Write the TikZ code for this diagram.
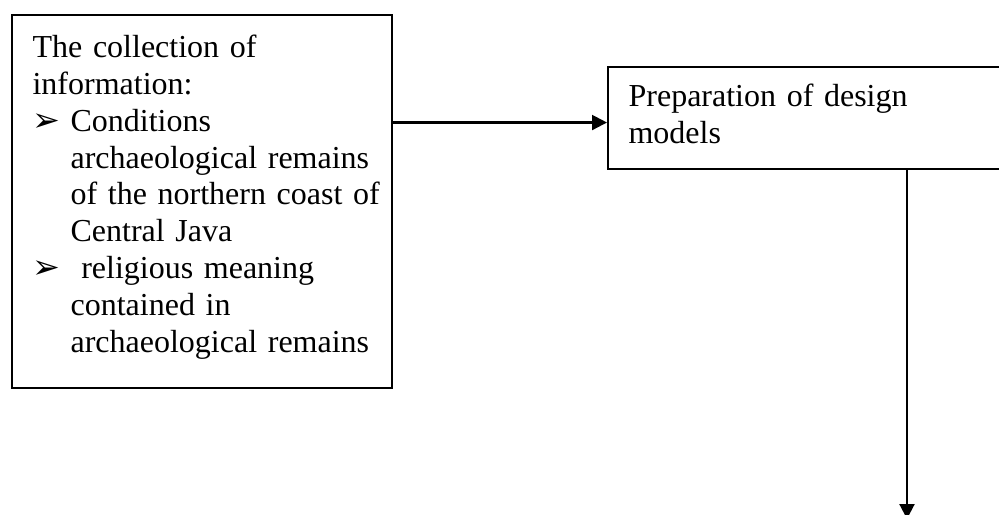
\documentclass[tikz,border=0pt]{standalone}
\usepackage{fontspec}
\setmainfont{Liberation Serif}
\newfontfamily\dingfont{DejaVu Sans}
\usetikzlibrary{arrows.meta,positioning}

\newcommand{\bulpt}{\makebox[14.25pt][l]{\dingfont\fontsize{12.5}{12.5}\selectfont ➢}}
\newcommand{\indpt}{\hspace*{14.25pt}}

\begin{document}
\begin{tikzpicture}[x=0.375pt,y=-0.375pt,>={Triangle[length=5.6pt,width=5.6pt]}]
\tikzset{
  frame/.style={draw,line width=0.75pt,inner sep=0pt,anchor=north west},
  boxtext/.style={inner sep=0pt,anchor=base west,align=left,font=\fontsize{12}{13.8}\selectfont},
  arr/.style={->,line width=0.8pt}
}
\useasboundingbox (0,0) rectangle (999,515);
\clip (0,0) rectangle (999,515);

% left box: collected information
\node[frame,minimum width=142.5pt,minimum height=139.9pt] (info) at (11,14) {};
\node[boxtext,text width=136pt] (infotext) at ([xshift=7.9pt,yshift=-16.4pt]info.north west) {The collection of\\
information:\\
\bulpt Conditions\\
\indpt archaeological remains\\
\indpt of the northern coast of\\
\indpt Central Java\\
\bulpt\ religious meaning\\
\indpt contained in\\
\indpt archaeological remains};

% right box: design models
\node[frame,minimum width=162.4pt,minimum height=38.25pt] (prep) at (607,66) {};
\node[boxtext,text width=140pt] (preptext) at ([xshift=7.9pt,yshift=-15.2pt]prep.north west) {Preparation of design\\
models};

\coordinate (down) at (907,519);
\draw[arr] ([yshift=-1.7pt]prep.west -| info.east) -- ([yshift=-1.7pt]prep.west);
\draw[arr] (down |- prep.south) -- (down);
\end{tikzpicture}
\end{document}
